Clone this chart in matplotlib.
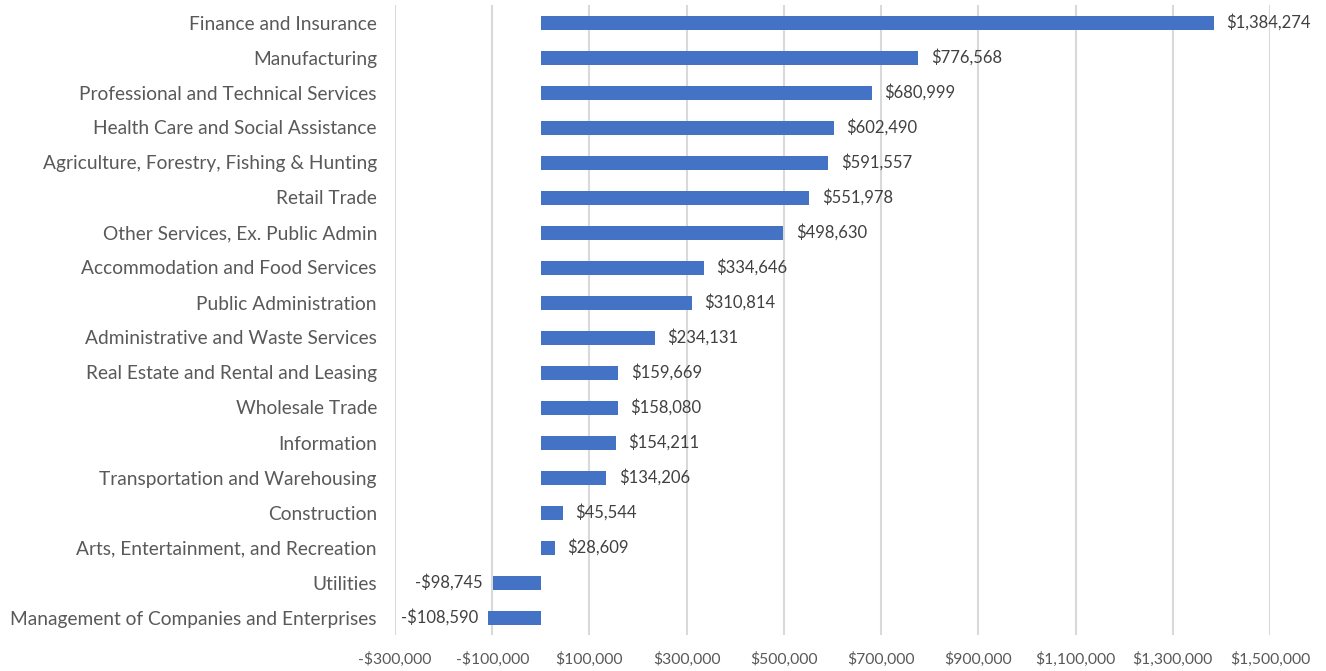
import numpy as np
import matplotlib.pyplot as plt
from matplotlib.ticker import FuncFormatter

# Industries, top to bottom as drawn
industries = [
    "Finance and Insurance",
    "Manufacturing",
    "Professional and Technical Services",
    "Health Care and Social Assistance",
    "Agriculture, Forestry, Fishing & Hunting",
    "Retail Trade",
    "Other Services, Ex. Public Admin",
    "Accommodation and Food Services",
    "Public Administration",
    "Administrative and Waste Services",
    "Real Estate and Rental and Leasing",
    "Wholesale Trade",
    "Information",
    "Transportation and Warehousing",
    "Construction",
    "Arts, Entertainment, and Recreation",
    "Utilities",
    "Management of Companies and Enterprises",
]
values = [1384274, 776568, 680999, 602490, 591557, 551978, 498630, 334646,
          310814, 234131, 159669, 158080, 154211, 134206, 45544, 28609,
          -98745, -108590]
xticks = np.arange(-300000, 1500001, 200000)

def money(v, pos=None):
    s = "${:,.0f}".format(abs(v))
    return "-" + s if v < 0 else s

plt.rcParams['font.family'] = ['Lato', 'DejaVu Sans']
txt = '#595959'

fig = plt.figure(figsize=(13.26, 6.71), dpi=100)
ax = fig.add_axes([395/1326, 36/671, 875/1326, 630/671])

y = np.arange(len(industries))
ax.barh(y, values, height=0.4, color='#4472C4', zorder=3)
for yi, v in zip(y, values):
    if v >= 0:
        ax.text(v + 26000, yi, money(v), va='center', ha='left', fontsize=12, color='#404040')
    else:
        ax.text(v - 20000, yi, money(v), va='center', ha='right', fontsize=12, color='#404040')

ax.set_xlim(-300000, 1500000)
ax.set_ylim(len(industries) - 0.5, -0.5)
ax.set_xticks(xticks)
ax.xaxis.set_major_formatter(FuncFormatter(money))
ax.set_yticks(y)
ax.set_yticklabels(industries)
ax.tick_params(axis='x', length=0, labelsize=11.3, labelcolor=txt, pad=12)
ax.tick_params(axis='y', length=0, labelsize=13.8, labelcolor=txt, pad=13)
ax.grid(axis='x', color='#D9D9D9', linewidth=1.5, zorder=0)
for s in ax.spines.values():
    s.set_visible(False)

fig.savefig('out.png', dpi=100)
